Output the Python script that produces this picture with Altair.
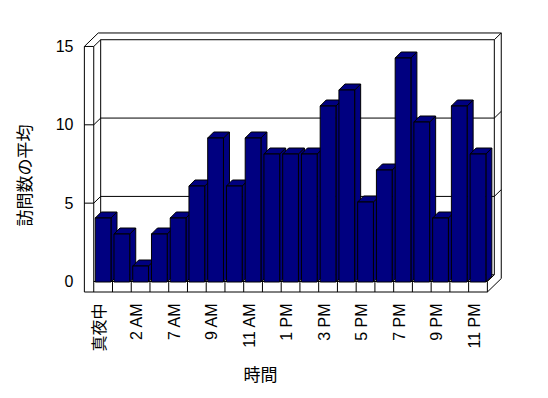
import altair as alt
import pandas as pd

# ---------------- data ----------------
categories = ["真夜中", "1 AM", "2 AM", "6 AM", "7 AM", "8 AM", "9 AM", "10 AM",
              "11 AM", "正午", "1 PM", "2 PM", "3 PM", "4 PM", "5 PM", "6 PM",
              "7 PM", "8 PM", "9 PM", "10 PM", "11 PM"]
visits = [4, 3, 1, 3, 4, 6, 9, 6, 9, 8, 8, 8, 11, 12, 5, 7, 14, 10, 4, 11, 8]
y_ticks = [0, 5, 10, 15]
grid_values = [5, 10]
x_title = "時間"
y_title = "訪問数の平均"

# ---------------- style / geometry (data units) ----------------
FONT = "Liberation Sans, Noto Sans CJK JP"
BAR_FILL = "#000080"
HALF = 0.42          # half bar width
BDX, BDY = 0.32, 0.375   # bar depth offset
FDX, FDY = 0.37, 0.43    # wall depth offset
FLOOR = -0.67
TOP = 15
n = len(categories)
L_OUT, L_IN, R = -1.0, -0.5, n - 0.5

xs = alt.Scale(domain=[-1.02, 21.28], nice=False, zero=False)
ys_bar = alt.Scale(domain=[-0.625, 15.5], nice=False, zero=False)
ys_frame = alt.Scale(domain=[-0.67, 15.795], nice=False, zero=False)

label_arr = "[" + ",".join("'" + c + "'" for c in categories) + "]"
x_axis = alt.Axis(
    values=list(range(0, n, 2)), labelExpr=label_arr + "[datum.value]",
    labelAngle=270, labelAlign="right", labelBaseline="middle",
    labelPadding=11, labelOffset=-4, labelFont=FONT, labelFontSize=16,
    labelColor="black", labelOverlap=False, labelFlush=False, labelBound=False,
    domain=False, ticks=False, grid=False,
    title=x_title, titleFont="Noto Sans CJK JP", titleFontSize=17,
    titleFontWeight="normal", titleColor="black", titleX=176, titleY=83,
    titleAlign="center", titleBaseline="middle", titleAngle=0,
)
y_axis = alt.Axis(
    values=y_ticks, labelAlign="right", labelBaseline="middle", labelPadding=11,
    labelFont=FONT, labelFontSize=16, labelColor="black",
    domain=False, ticks=False, grid=False,
    title=y_title, titleFont="Noto Sans CJK JP", titleFontSize=17,
    titleFontWeight="normal", titleColor="black", titleX=-59, titleY=141,
    titleAngle=270, titleAlign="center", titleBaseline="middle",
)

# ---------------- frame segments ----------------
segs = []
def seg(x, y, x2, y2):
    segs.append({"x": x, "y": y, "x2": x2, "y2": y2})

seg(L_OUT, FLOOR, L_OUT, TOP)
seg(L_IN, FLOOR, L_IN, TOP)
seg(L_OUT, TOP, L_IN, TOP)
seg(L_OUT, TOP, L_OUT + 2 * FDX, TOP + 2 * FDY)
seg(L_IN, TOP, L_IN + FDX, TOP + FDY)
seg(L_OUT + 2 * FDX, TOP + 2 * FDY, R + 2 * FDX, TOP + 2 * FDY)
seg(L_IN + FDX, TOP + FDY, R + FDX, TOP + FDY)
seg(L_IN + FDX, FDY, L_IN + FDX, TOP + FDY)
seg(R + FDX, FDY, R + FDX, TOP + FDY)
seg(R + FDX, TOP + FDY, R + 2 * FDX, TOP + 2 * FDY)
seg(R + 2 * FDX, FLOOR + 2 * FDY, R + 2 * FDX, TOP + 2 * FDY)
seg(L_OUT, FLOOR, R, FLOOR)
seg(L_IN, 0, R, 0)
seg(R, FLOOR, R, 0)
seg(R, FLOOR, R + 2 * FDX, FLOOR + 2 * FDY)
seg(R, 0, R + FDX, FDY)
seg(L_IN + FDX, FDY, R + FDX, FDY)
for g in grid_values:
    seg(L_IN + FDX, g + FDY, R + FDX, g + FDY)
    seg(L_IN, g, L_IN + FDX, g + FDY)
    seg(L_OUT, g, L_IN, g)
    seg(R + FDX, g + FDY, R + 2 * FDX, g + 2 * FDY)
for i in range(n - 1):
    seg(i + 0.5, FLOOR, i + 0.5, 0)
frame_df = pd.DataFrame(segs)

frame = alt.Chart(frame_df).mark_rule(color="black", strokeWidth=1, clip=False).encode(
    x=alt.X("x:Q", scale=xs, axis=x_axis),
    x2="x2:Q",
    y=alt.Y("y:Q", scale=ys_frame, axis=y_axis),
    y2="y2:Q",
)

# ---------------- bars ----------------
fronts = pd.DataFrame({
    "bar": list(range(n)),
    "x": [i - HALF for i in range(n)],
    "x2": [i + HALF for i in range(n)],
    "y": [0] * n,
    "y2": visits,
})
top_rows, side_rows = [], []
for i, v in enumerate(visits):
    top_rows.append({"bar": i, "y": v, "x": i - HALF, "x2": i + HALF})
    top_rows.append({"bar": i, "y": v + BDY, "x": i - HALF + BDX, "x2": i + HALF + BDX})
    side_rows.append({"bar": i, "x": i + HALF, "y": 0, "y2": v})
    side_rows.append({"bar": i, "x": i + HALF + BDX, "y": BDY, "y2": v + BDY})
tops = pd.DataFrame(top_rows)
sides = pd.DataFrame(side_rows)

side_layer = alt.Chart(sides).mark_area(
    orient="vertical", fill=BAR_FILL, stroke="black", strokeWidth=1
).encode(
    x=alt.X("x:Q", scale=xs, axis=x_axis),
    y=alt.Y("y:Q", scale=ys_bar, axis=None, stack=None),
    y2="y2:Q",
    detail="bar:N",
)
top_layer = alt.Chart(tops).mark_area(
    orient="horizontal", fill=BAR_FILL, stroke="black", strokeWidth=1
).encode(
    y=alt.Y("y:Q", scale=ys_bar, axis=None),
    x=alt.X("x:Q", scale=xs, axis=x_axis, stack=None),
    x2="x2:Q",
    detail="bar:N",
)
front_layer = alt.Chart(fronts).mark_rect(
    fill=BAR_FILL, stroke="black", strokeWidth=1
).encode(
    x=alt.X("x:Q", scale=xs, axis=x_axis),
    x2="x2:Q",
    y=alt.Y("y:Q", scale=ys_bar, axis=None),
    y2="y2:Q",
)
bars = alt.layer(side_layer, top_layer, front_layer)

chart = alt.layer(frame, bars).resolve_scale(y="independent").properties(
    width=418, height=258,
    autosize=alt.AutoSizeParams(type="none"),
    padding={"left": 76, "top": 26, "right": 38, "bottom": 98},
    background="white",
).configure_view(stroke=None)

chart.save("out.html", embed_options={"renderer": "svg", "actions": False})
